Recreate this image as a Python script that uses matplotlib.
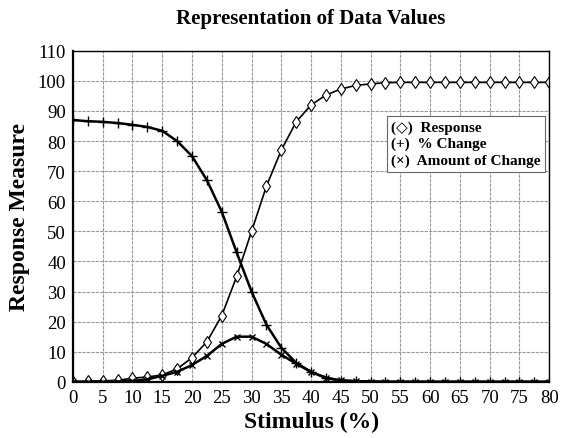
import numpy as np
import matplotlib
matplotlib.use("Agg")
import matplotlib.pyplot as plt

# stimulus values, every 2.5 %
stimulus = np.arange(0, 80.1, 2.5)

response = [0.1, 0.2, 0.3, 0.5, 1.2, 1.6, 2.3, 4.3, 8.0, 13.3, 22.0, 35.0,
            50.0, 65.0, 77.0, 86.4, 92.0, 95.3, 97.3, 98.5, 99.0, 99.4,
            99.5, 99.5, 99.5, 99.5, 99.5, 99.5, 99.5, 99.5, 99.5, 99.5, 99.5]

pct_change = [87.0, 86.6, 86.4, 86.0, 85.4, 84.7, 83.4, 80.0, 75.0, 67.0,
              56.5, 43.0, 30.0, 19.0, 11.3, 6.3, 3.3, 1.3, 0.4, 0.2, 0.1,
              0.0, 0.0, 0.0, 0.0, 0.0, 0.0, 0.0, 0.0, 0.0, 0.0, 0.0, 0.0]

amount_change = [0.0, 0.0, 0.0, 0.1, 0.3, 0.8, 2.0, 3.3, 5.6, 8.6, 12.6,
                 15.0, 15.0, 12.6, 9.0, 6.0, 3.3, 1.3, 0.5, 0.2, 0.1, 0.0,
                 0.0, 0.0, 0.0, 0.0, 0.0, 0.0, 0.0, 0.0, 0.0, 0.0, 0.0]

legend_labels = ["(\u25c7)  Response", "(+)  % Change", "(\u00d7)  Amount of Change"]

plt.rcParams["font.family"] = ["Liberation Serif", "DejaVu Serif"]

fig = plt.figure(figsize=(5.61, 4.39), dpi=100)
ax = fig.add_axes([0.130, 0.128, 0.849, 0.754])

ax.plot(stimulus, response, color="black", lw=1.2, marker="d", ms=6.5,
        mfc="white", mec="black", mew=0.8)
ax.plot(stimulus, pct_change, color="black", lw=1.8, marker="+", ms=7,
        mew=1.0)
ax.plot(stimulus, amount_change, color="black", lw=1.8, marker="x", ms=5,
        mew=1.0)

ax.set_xlim(0, 80)
ax.set_ylim(0, 110)
ax.set_xticks(np.arange(0, 81, 5))
ax.set_yticks(np.arange(0, 111, 10))
ax.tick_params(length=0, labelsize=13.5, pad=5)
ax.grid(True, color="#999999", lw=0.8, ls=(0, (3, 1)))
ax.set_axisbelow(True)
for s in ax.spines.values():
    s.set_linewidth(1.0)
ax.spines["left"].set_linewidth(1.6)
ax.spines["bottom"].set_linewidth(1.6)

ax.set_title("Representation of Data Values", fontsize=15, fontweight="bold", pad=20)
ax.set_xlabel("Stimulus (%)", fontsize=17, fontweight="bold", labelpad=4)
ax.set_ylabel("Response Measure", fontsize=17, fontweight="bold", labelpad=6)

ax.text(0.668, 0.79, "\n".join(legend_labels), transform=ax.transAxes,
        fontsize=11, fontweight="bold", va="top", ha="left", linespacing=1.3,
        family=["Liberation Serif", "DejaVu Sans"],
        bbox=dict(boxstyle="square,pad=0.3", fc="white", ec="#666666", lw=0.8))

fig.savefig("out.png", dpi=100)
